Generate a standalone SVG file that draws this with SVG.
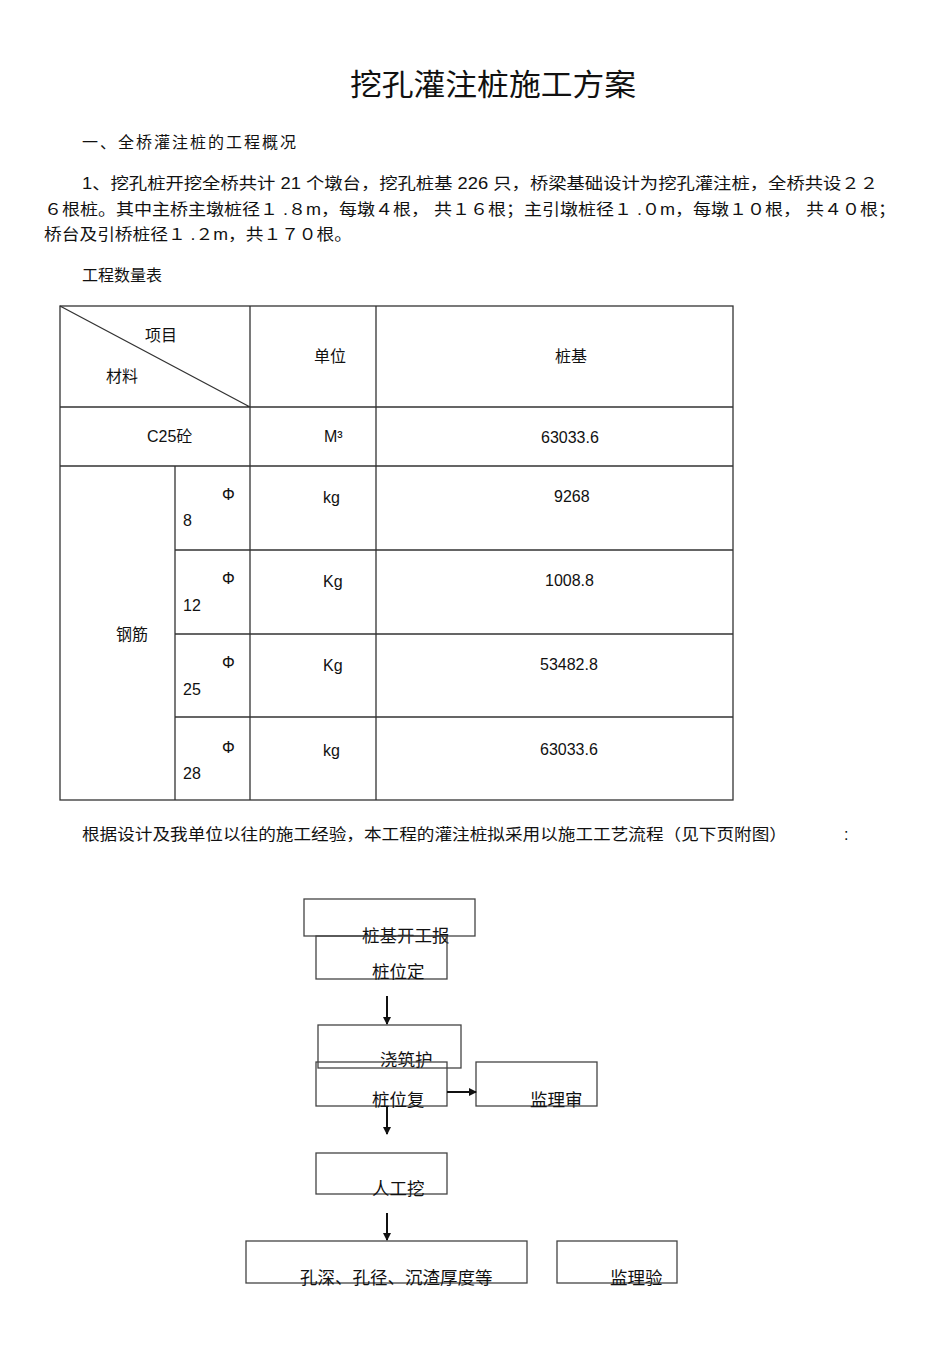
<svg xmlns="http://www.w3.org/2000/svg" width="950" height="1345" viewBox="0 0 950 1345">
<style>
text{font-family:"Liberation Sans","Noto Sans CJK SC",sans-serif;font-size:16px;fill:#111}
.t{font-size:30px}
.f{font-size:17.5px}
.ln{stroke:#333;stroke-width:1.3;fill:none}
.bx{stroke:#444;stroke-width:1.3;fill:none}
.ar{stroke:#111;stroke-width:2;fill:none;marker-end:url(#a)}
</style>
<defs><marker id="a" markerWidth="8" markerHeight="8" refX="7" refY="4" orient="auto" markerUnits="userSpaceOnUse"><path d="M0,0L8,4L0,8Z" fill="#111"/></marker></defs>
<rect width="950" height="1345" fill="#fff"/>
<text class="t" x="350" y="95" textLength="286" lengthAdjust="spacingAndGlyphs">挖孔灌注桩施工方案</text>
<text x="82" y="148" textLength="214">一、全桥灌注桩的工程概况</text>
<text x="82" y="189" textLength="796" lengthAdjust="spacingAndGlyphs">1、挖孔桩开挖全桥共计   21 个墩台，挖孔桩基  226 只，桥梁基础设计为挖孔灌注桩，全桥共设２２</text>
<text x="44" y="215" textLength="852" lengthAdjust="spacingAndGlyphs">６根桩。其中主桥主墩桩径１ .８m，每墩４根， 共１６根；主引墩桩径１ .０m，每墩１０根， 共４０根；</text>
<text x="44" y="240" textLength="308" lengthAdjust="spacingAndGlyphs">桥台及引桥桩径１ .２m，共１７０根。</text>
<text x="82" y="281">工程数量表</text>
<g id="table">
<rect class="ln" x="60" y="306" width="673" height="494"/>
<path class="ln" d="M60,306L250,407M250,306V800M376,306V800M175,466V800M60,407H733M60,466H733M175,550H733M175,634H733M175,717H733"/>
<text x="145" y="341">项目</text><text x="106" y="382">材料</text>
<text x="314" y="362">单位</text><text x="555" y="362">桩基</text>
<text x="147" y="442">C25砼</text><text x="324" y="442">M³</text><text x="541" y="443">63033.6</text>
<text x="116" y="640">钢筋</text>
<text x="222" y="500">Φ</text><text x="183" y="526">8</text><text x="323" y="503">kg</text><text x="554" y="502">9268</text>
<text x="222" y="584">Φ</text><text x="183" y="611">12</text><text x="323" y="587">Kg</text><text x="545" y="586">1008.8</text>
<text x="222" y="668">Φ</text><text x="183" y="695">25</text><text x="323" y="671">Kg</text><text x="540" y="670">53482.8</text>
<text x="222" y="753">Φ</text><text x="183" y="779">28</text><text x="323" y="756">kg</text><text x="540" y="755">63033.6</text>
</g>
<text x="82" y="840" textLength="705" lengthAdjust="spacingAndGlyphs">根据设计及我单位以往的施工经验，本工程的灌注桩拟采用以施工工艺流程（见下页附图）</text>
<text x="844" y="840">:</text>
<g id="n1"><rect class="bx" x="304" y="899" width="171" height="37"/><text class="f" x="362" y="942">桩基开工报</text></g>
<g id="n2"><rect class="bx" x="316" y="936" width="131" height="43"/><text class="f" x="372" y="978">桩位定</text></g>
<g id="n3"><rect class="bx" x="318" y="1025" width="143" height="43" stroke-width="2.5" stroke="#111"/><text class="f" x="380" y="1066">浇筑护</text></g>
<g id="n4"><rect class="bx" x="316" y="1062" width="131" height="44"/><text class="f" x="372" y="1106">桩位复</text></g>
<g id="n5"><rect class="bx" x="476" y="1062" width="121" height="44"/><text class="f" x="530" y="1106">监理审</text></g>
<g id="n6"><rect class="bx" x="316" y="1153" width="131" height="41"/><text class="f" x="372" y="1195">人工挖</text></g>
<g id="n7"><rect class="bx" x="246" y="1241" width="281" height="42"/><text class="f" x="300" y="1284">孔深、孔径、沉渣厚度等</text></g>
<g id="n8"><rect class="bx" x="557" y="1241" width="120" height="42"/><text class="f" x="610" y="1284">监理验</text></g>
<g id="connectors">
<path class="ar" d="M387,996V1024"/>
<path class="ar" d="M447,1092H476"/>
<path class="ar" d="M387,1106V1134"/>
<path class="ar" d="M387,1213V1240"/>
</g>
</svg>
